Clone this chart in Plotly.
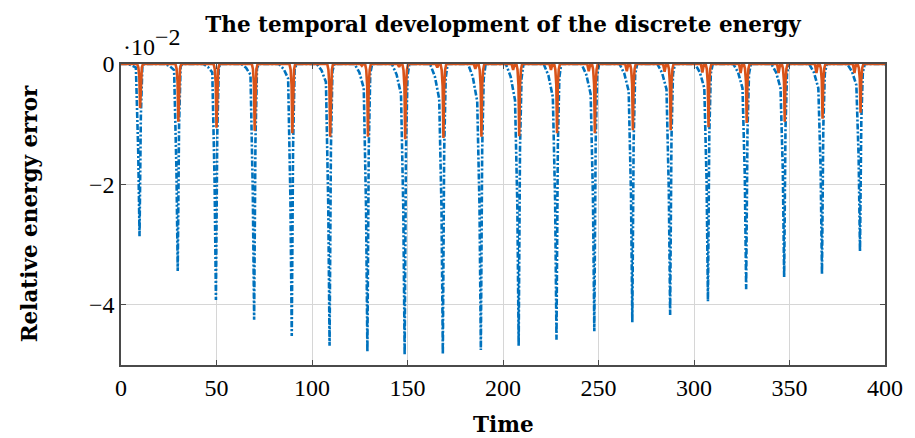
import plotly.graph_objects as go

# ---- data (energy error in units of 1e-2) ----
spike_time = [10.0, 30.0, 50.0, 70.0, 89.7, 109.5, 129.3, 148.8, 168.8, 188.7,
              208.5, 228.3, 248.1, 268.0, 287.8, 307.6, 327.6, 347.5, 367.3, 387.2, 407.0]
blue_depth = [-2.86, -3.44, -3.92, -4.25, -4.52, -4.68, -4.78, -4.83, -4.82, -4.75,
              -4.68, -4.58, -4.44, -4.29, -4.17, -3.94, -3.74, -3.54, -3.49, -3.11, -2.9]
blue_shoulder = [-0.06, -0.10, -0.14, -0.18, -0.24, -0.30, -0.40, -0.50, -0.58, -0.62,
                 -0.60, -0.55, -0.50, -0.45, -0.42, -0.40, -0.40, -0.40, -0.40, -0.35, -0.3]
orange_depth = [-0.73, -0.96, -1.06, -1.11, -1.15, -1.21, -1.21, -1.25, -1.23, -1.21,
                -1.20, -1.15, -1.15, -1.10, -1.10, -1.05, -0.98, -0.96, -0.91, -0.81, -0.8]
orange_shoulder = [0.0, 0.0, 0.0, 0.0, 0.0, 0.0, -0.03, -0.05, -0.06, -0.08,
                   -0.10, -0.10, -0.12, -0.12, -0.13, -0.14, -0.15, -0.15, -0.15, -0.15, -0.15]

x_ticks = [0, 50, 100, 150, 200, 250, 300, 350, 400]
y_ticks = [0, -2, -4]
y_ticktext = ["0", "\u22122", "\u22124"]

# spike profile (time offsets)
blue_profile_t = [-7.0, -4.5, -2.2, -1.0, -0.3, 0.4, 1.2, 2.2]
orange_profile_t = [-4.0, -3.2, -2.4, -1.5, -0.9, -0.4, 0.0, 0.4, 0.9, 1.5]

T_MIN, T_MAX = 0, 400

bx, by = [T_MIN], [0.0]
for tc, d, p in zip(spike_time, blue_depth, blue_shoulder):
    vals = [0.0, 0.35 * p, p, 0.5 * d, d, 0.3 * d, 0.4 * p, 0.0]
    for dt, v in zip(blue_profile_t, vals):
        bx.append(tc + dt)
        by.append(v)

ox, oy = [T_MIN], [0.0]
for tc, d, s in zip(spike_time, orange_depth, orange_shoulder):
    vals = [0.0, s, 0.0, 0.0, 0.08 * d, 0.3 * d, d, 0.3 * d, 0.08 * d, 0.0]
    for dt, v in zip(orange_profile_t, vals):
        ox.append(tc + dt)
        oy.append(v)

TICKFONT = "Liberation Serif"
TITLEFONT = "DejaVu Serif"

fig = go.Figure()
fig.add_trace(go.Scatter(x=bx, y=by, mode="lines",
                         line=dict(color="#0072BD", width=2.6, dash="6px,2px,2px,2px"),
                         showlegend=False))
fig.add_trace(go.Scatter(x=ox, y=oy, mode="lines",
                         line=dict(color="#D95319", width=2.6),
                         showlegend=False))

axis_common = dict(showgrid=True, gridcolor="#d6d6d6", gridwidth=1,
                   showline=True, linecolor="#4a4a4a", linewidth=1.5, mirror="ticks",
                   ticks="inside", ticklen=5, tickcolor="#4a4a4a",
                   zeroline=False,
                   tickfont=dict(family=TICKFONT, size=24, color="black"))

fig.update_layout(
    width=915, height=438,
    margin=dict(l=121, r=27, t=64, b=73),
    paper_bgcolor="white", plot_bgcolor="white",
    title=dict(text="<b>The temporal development of the discrete energy</b>",
               x=0.5, xref="paper", xanchor="center", y=0.943, yanchor="middle",
               font=dict(family=TITLEFONT, size=21.5, color="black")),
    xaxis=dict(range=[T_MIN, T_MAX], tickvals=x_ticks, **axis_common),
    yaxis=dict(range=[-5, 0], tickvals=y_ticks, ticktext=y_ticktext, **axis_common),
    annotations=[
        dict(text="\u00b710<sup><span style='font-size:24px'>\u22122</span></sup>",
             xref="paper", yref="paper",
             x=0.0, y=1.005, xanchor="left", yanchor="bottom", showarrow=False,
             font=dict(family=TICKFONT, size=24, color="black")),
        dict(text="<b>Time</b>", xref="paper", yref="paper",
             x=0.5, y=-0.199, xanchor="center", yanchor="middle", showarrow=False,
             font=dict(family=TITLEFONT, size=21.5, color="black")),
        dict(text="<b>Relative energy error</b>", xref="paper", yref="paper",
             x=-0.1186, y=0.502, xanchor="center", yanchor="middle", showarrow=False,
             textangle=-90, font=dict(family=TITLEFONT, size=21.5, color="black")),
    ],
)

fig.write_html("out.html")
